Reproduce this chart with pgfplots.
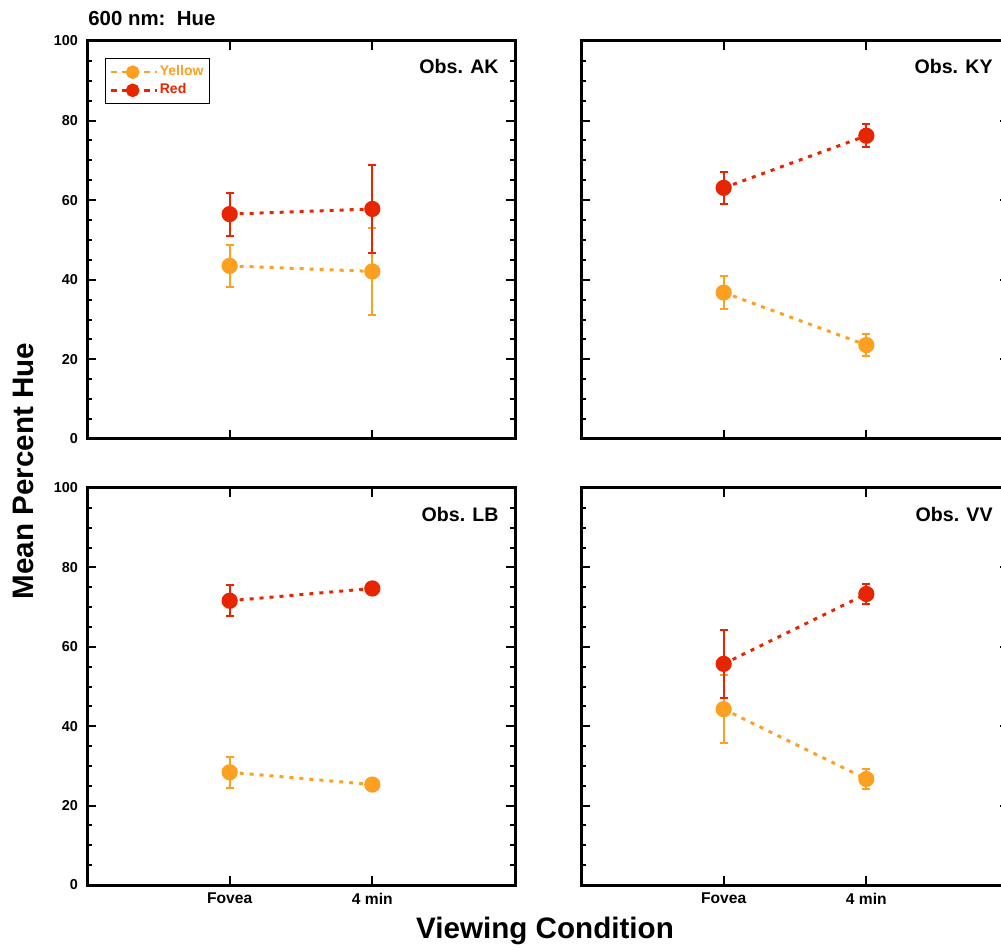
\documentclass[border=0pt]{standalone}
\usepackage{pgfplots}
\pgfplotsset{compat=1.18}
\usepackage{fontspec}
\setmainfont{Liberation Sans}
\definecolor{hueyellow}{RGB}{253,160,33}
\definecolor{huered}{RGB}{231,37,0}
\pgfplotsset{
 panel/.style={
  scale only axis, width=214pt, height=199pt,
  xmin=0, xmax=3, ymin=0, ymax=100,
  xtick={1,2}, ytick={0,20,40,60,80,100}, minor y tick num=3,
  tick align=inside,
  axis line style={line width=1.5pt},
  major tick length=4.5pt, minor tick length=2.5pt,
  every tick/.style={black, line width=1pt},
  tick label style={font=\bfseries\fontsize{7.2}{8}\selectfont},
  yticklabels={}, xticklabels={},
  clip=false,
 },
 leftp/.style={yticklabels={0,20,40,60,80,100}, yticklabel style={xshift=-1pt}},
 botp/.style={xticklabels={Fovea,4 min}, xticklabel style={yshift=-0.5pt, font=\bfseries\fontsize{7.8}{8}\selectfont}},
 ser/.style={line width=1.5pt, dash pattern=on 2pt off 3pt, mark=*, mark size=3.3pt,
   mark options={solid},
   error bars/y dir=both, error bars/y explicit,
   error bars/error bar style={line width=1pt, solid},
   error bars/error mark options={rotate=90, mark size=2pt, line width=1pt, solid}},
 yel/.style={ser, color=hueyellow},
 red/.style={ser, color=huered},
}
\newcommand{\obs}[1]{\node[anchor=east, inner sep=0pt, font=\bfseries\fontsize{9.8}{11}\selectfont] at ([xshift=-8pt,yshift=-13pt]rel axis cs:1,1) {#1};}
\begin{document}
\begin{tikzpicture}
\useasboundingbox (0,0) rectangle (500.5pt,-475.5pt);
\clip (0,0) rectangle (500.5pt,-475.5pt);
% top-left AK
\begin{axis}[panel, leftp, at={(43.5pt,-20.5pt)}, anchor=north west,
  legend cell align=left,
  legend style={at={(0.042,0.957)}, anchor=north west, draw=black, line width=0.5pt,
    font=\bfseries\fontsize{7}{7}\selectfont, inner xsep=2pt, inner ysep=2pt, row sep=-0.5pt,
    nodes={inner xsep=1pt, inner ysep=1.5pt}},
  legend image code/.code={\draw[#1, mark repeat=2, mark phase=2, mark size=2.8pt, dash pattern=on 3pt off 2.5pt, line width=1.2pt] plot coordinates {(0pt,0pt)(11pt,0pt)(23pt,0pt)};}]
\addplot+[yel] coordinates {(1,43.5) +- (0,5.3) (2,42.1) +- (0,10.9)};
\addlegendentry{\textcolor{hueyellow}{Yellow}}
\addplot+[red] coordinates {(1,56.5) +- (0,5.4) (2,57.8) +- (0,11.0)};
\addlegendentry{\textcolor{huered}{Red}}
\obs{Obs. AK}
\end{axis}
% top-right KY
\begin{axis}[panel, at={(290.5pt,-20.5pt)}, anchor=north west]
\addplot+[yel] coordinates {(1,36.8) +- (0,4.1) (2,23.6) +- (0,2.8)};
\addplot+[red] coordinates {(1,63.1) +- (0,4.1) (2,76.2) +- (0,2.9)};
\obs{Obs. KY}
\end{axis}
% bottom-left LB
\begin{axis}[panel, leftp, botp, at={(43.5pt,-244pt)}, anchor=north west, height=198.5pt]
\addplot+[yel] coordinates {(1,28.4) +- (0,3.9) (2,25.3) +- (0,0.6)};
\addplot+[red] coordinates {(1,71.6) +- (0,3.9) (2,74.7) +- (0,0.6)};
\obs{Obs. LB}
\end{axis}
% bottom-right VV
\begin{axis}[panel, botp, at={(290.5pt,-244pt)}, anchor=north west, height=198.5pt]
\addplot+[yel] coordinates {(1,44.3) +- (0,8.5) (2,26.7) +- (0,2.4)};
\addplot+[red] coordinates {(1,55.7) +- (0,8.5) (2,73.3) +- (0,2.4)};
\obs{Obs. VV}
\end{axis}
\node[anchor=west, inner sep=0pt, font=\bfseries\fontsize{10.2}{12}\selectfont] at (44pt,-9pt) {600 nm:\ \ Hue};
\node[rotate=90, inner sep=0pt, font=\bfseries\fontsize{14.8}{16}\selectfont] at (11.5pt,-235.5pt) {Mean Percent Hue};
\node[inner sep=0pt, font=\bfseries\fontsize{14.8}{16}\selectfont] at (272.5pt,-465.5pt) {Viewing Condition};
\end{tikzpicture}
\end{document}
